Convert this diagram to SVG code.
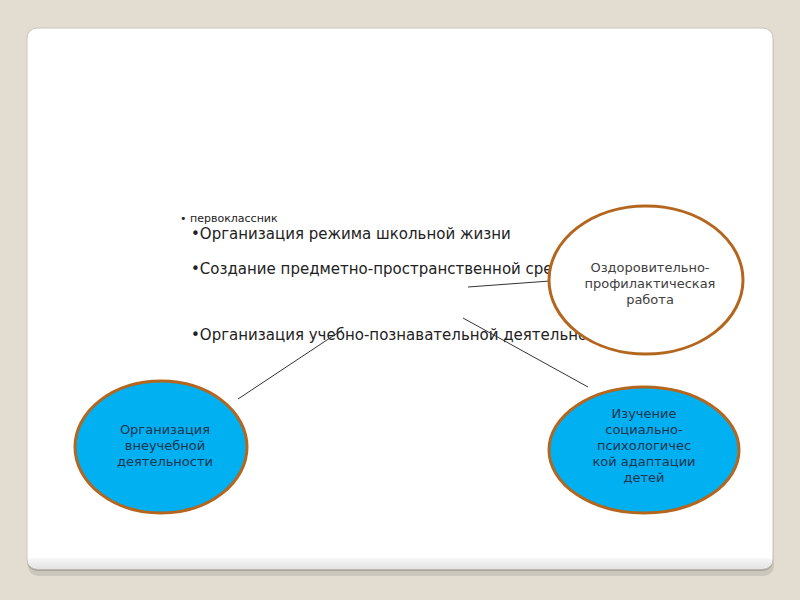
<svg xmlns="http://www.w3.org/2000/svg" width="800" height="600" viewBox="0 0 800 600">
<style>
.t{font-family:"DejaVu Sans",Verdana,sans-serif;fill:#222}
.n{font-family:"DejaVu Sans",Verdana,sans-serif;font-size:13px;text-anchor:middle}
.e{stroke:#b5661e;stroke-width:3}
.c{stroke:#333;stroke-width:1;fill:none}
</style>
<defs>
<linearGradient id="sh" x1="0" y1="0" x2="0" y2="1">
<stop offset="0" stop-color="#ffffff"/>
<stop offset="1" stop-color="#e4e4e4"/>
</linearGradient>
</defs>
<rect width="800" height="600" fill="#e3ddd1"/>
<rect x="28" y="32" width="746" height="544" rx="10" fill="#c2beb5" opacity="0.7"/>
<rect x="27" y="29" width="746" height="542" rx="10" fill="#a9a69f"/>
<rect x="27" y="28" width="746" height="541" rx="10" fill="#fff" stroke="#c9c6bf" stroke-width="1"/>
<rect x="28" y="554" width="744" height="14" rx="9" fill="url(#sh)"/>
<rect x="28" y="540" width="744" height="18" fill="#fff"/>

<g id="text">
<text class="t" x="180" y="222" font-size="11">• первоклассник</text>
<text class="t" x="191" y="239" font-size="15">•Организация режима школьной жизни</text>
<text class="t" x="191" y="274" font-size="15">•Создание предметно-пространственной среды</text>
<text class="t" x="191" y="340" font-size="15">•Организация учебно-познавательной деятельности</text>
</g>

<g id="connectors">
<line class="c" x1="468" y1="287" x2="550" y2="281"/>
<line class="c" x1="463" y1="318" x2="588" y2="387"/>
<line class="c" x1="238" y1="399" x2="342" y2="330"/>
</g>

<g id="node-health">
<ellipse class="e" cx="646" cy="280" rx="97" ry="74" fill="#fff"/>
<text class="n" fill="#404040"><tspan x="650" y="272">Оздоровительно-</tspan><tspan x="650" y="288">профилактическая</tspan><tspan x="650" y="304">работа</tspan></text>
</g>

<g id="node-extra">
<ellipse class="e" cx="161" cy="447" rx="86" ry="66" fill="#00b0f0"/>
<text class="n" fill="#1e3550"><tspan x="165" y="434">Организация</tspan><tspan x="165" y="450">внеучебной</tspan><tspan x="165" y="466">деятельности</tspan></text>
</g>

<g id="node-study">
<ellipse class="e" cx="644" cy="450" rx="95" ry="63" fill="#00b0f0"/>
<text class="n" fill="#1e3550"><tspan x="644" y="418">Изучение</tspan><tspan x="644" y="434">социально-</tspan><tspan x="644" y="450">психологичес</tspan><tspan x="644" y="466">кой адаптации</tspan><tspan x="644" y="482">детей</tspan></text>
</g>
</svg>
